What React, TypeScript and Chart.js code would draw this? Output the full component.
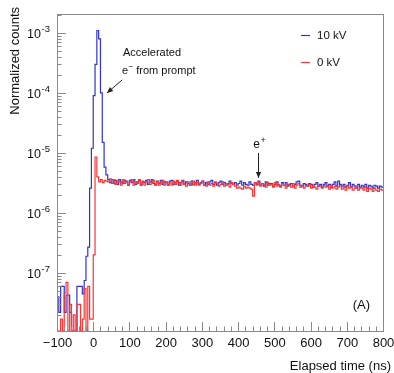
import { useEffect, useRef } from "react";
import { Chart, registerables } from "chart.js";

Chart.register(...registerables);

// ---- data (5 ns bins, left edges from -100 ns) ----
const BIN_START = -100;
const BIN_WIDTH = 5;
const X_MIN = -100;
const X_MAX = 800;
const Y_MIN = 1.08e-8;
const Y_MAX = 2.07e-3;

const seriesLabels = ["10 kV", "0 kV"];
const seriesColors = ["#3434c4", "#f43838"];

const xTickValues = [-100, 0, 100, 200, 300, 400, 500, 600, 700, 800];
const yTickExponents = [-3, -4, -5, -6, -7];

const counts10kV = [
  4.0e-8, 2.2e-8, 6.0e-8, 6.0e-8, 2.2e-8, 4.3e-8, 4.3e-8, 2.2e-8, 0, 0,
  0, 6.0e-8, 6.0e-8, 6.0e-8, 4.5e-8, 7.5e-8, 1.9e-7, 2.7e-7, 2.6e-6, 1.2e-5,
  9.0e-5, 3.0e-4, 1.1e-3, 8.0e-4, 1.0e-4, 1.5e-5, 5.8e-6, 4.3e-6,
  3.6e-6, 3.2e-6, 3.6e-6, 3.1e-6, 3.5e-6, 3.0e-6, 3.6e-6, 3.3e-6, 3.1e-6, 3.5e-6,
  3.3e-6, 2.9e-6, 3.5e-6, 3.2e-6, 3.6e-6, 3.0e-6, 3.3e-6, 3.5e-6, 2.9e-6, 3.3e-6,
  3.2e-6, 3.5e-6, 3.0e-6, 3.3e-6, 3.6e-6, 3.1e-6, 2.9e-6, 3.4e-6, 3.1e-6, 3.5e-6,
  3.0e-6, 3.3e-6, 3.2e-6, 2.9e-6, 3.4e-6, 3.5e-6, 3.0e-6, 3.2e-6, 3.4e-6, 2.9e-6,
  3.2e-6, 3.5e-6, 3.0e-6, 3.3e-6, 3.1e-6, 2.9e-6, 3.4e-6, 3.0e-6, 3.2e-6, 3.5e-6,
  3.0e-6, 3.2e-6, 3.4e-6, 2.9e-6, 3.2e-6, 3.0e-6, 3.3e-6, 3.5e-6, 3.0e-6, 3.2e-6,
  2.9e-6, 3.2e-6, 3.4e-6, 3.0e-6, 3.2e-6, 2.9e-6, 3.1e-6, 3.4e-6, 3.1e-6, 3.0e-6,
  3.2e-6, 2.9e-6, 3.1e-6, 3.4e-6, 2.9e-6, 3.2e-6, 3.0e-6, 2.9e-6, 3.3e-6, 3.0e-6,
  2.9e-6, 3.2e-6, 3.0e-6, 3.4e-6, 2.9e-6, 3.1e-6, 2.8e-6, 3.3e-6, 2.9e-6, 3.1e-6,
  3.1e-6, 2.8e-6, 3.0e-6, 3.3e-6, 2.9e-6, 2.8e-6, 3.2e-6, 2.9e-6, 3.2e-6, 2.8e-6,
  3.0e-6, 3.1e-6, 2.8e-6, 3.0e-6, 3.3e-6, 3.4e-6, 2.9e-6, 2.8e-6, 3.1e-6, 3.0e-6,
  2.8e-6, 3.1e-6, 3.0e-6, 2.7e-6, 3.0e-6, 3.2e-6, 2.8e-6, 3.0e-6, 2.7e-6, 3.0e-6,
  3.2e-6, 2.8e-6, 3.0e-6, 2.7e-6, 3.0e-6, 3.3e-6, 2.8e-6, 3.4e-6, 3.0e-6, 2.8e-6,
  3.0e-6, 2.7e-6, 2.9e-6, 3.2e-6, 2.7e-6, 3.0e-6, 2.8e-6, 2.6e-6, 3.0e-6, 2.7e-6,
  2.9e-6, 2.7e-6, 3.0e-6, 2.6e-6, 2.9e-6, 2.8e-6, 2.6e-6, 2.9e-6, 2.8e-6, 2.6e-6,
  2.8e-6, 2.7e-6,
];

const counts0kV = [
  0, 0, 1.7e-8, 0, 4.6e-8, 7.0e-8, 0, 3.0e-8, 0, 2.0e-8,
  0, 3.0e-8, 3.0e-8, 0, 1.7e-8, 5.5e-8, 0, 6.0e-8, 1.7e-8, 1.7e-8,
  2.0e-7, 8.5e-6, 4.0e-6, 3.3e-6, 3.6e-6, 3.2e-6, 3.5e-6, 3.4e-6,
  3.3e-6, 3.7e-6, 3.1e-6, 3.6e-6, 3.0e-6, 3.4e-6, 3.3e-6, 2.9e-6, 3.6e-6, 3.1e-6,
  3.4e-6, 3.0e-6, 3.3e-6, 3.6e-6, 2.9e-6, 3.3e-6, 3.1e-6, 3.6e-6, 3.0e-6, 3.4e-6,
  2.9e-6, 3.3e-6, 3.6e-6, 3.0e-6, 3.2e-6, 3.5e-6, 3.0e-6, 3.3e-6, 2.9e-6, 3.2e-6,
  3.5e-6, 2.9e-6, 3.3e-6, 3.0e-6, 3.2e-6, 2.9e-6, 3.4e-6, 3.0e-6, 3.5e-6, 3.2e-6,
  2.9e-6, 3.4e-6, 3.0e-6, 2.8e-6, 3.3e-6, 3.1e-6, 2.9e-6, 3.4e-6, 2.9e-6, 3.2e-6,
  2.9e-6, 3.1e-6, 3.4e-6, 2.9e-6, 2.8e-6, 3.3e-6, 2.9e-6, 3.1e-6, 2.8e-6, 3.3e-6,
  3.1e-6, 2.8e-6, 3.0e-6, 3.3e-6, 2.8e-6, 3.1e-6, 3.0e-6, 2.7e-6, 3.2e-6, 3.0e-6,
  2.8e-6, 2.6e-6, 2.7e-6, 2.6e-6, 2.5e-6, 2.8e-6, 2.6e-6, 2.7e-6, 2.6e-6, 2.5e-6,
  1.9e-6, 3.2e-6, 2.9e-6, 3.3e-6, 2.8e-6, 3.1e-6, 3.0e-6, 2.7e-6, 3.2e-6, 2.9e-6,
  3.0e-6, 2.7e-6, 3.2e-6, 2.8e-6, 3.0e-6, 2.7e-6, 3.1e-6, 2.9e-6, 2.6e-6, 3.0e-6,
  2.9e-6, 2.7e-6, 3.1e-6, 2.6e-6, 2.9e-6, 3.1e-6, 2.7e-6, 2.9e-6, 2.6e-6, 2.9e-6,
  2.8e-6, 3.0e-6, 2.6e-6, 2.9e-6, 2.7e-6, 2.5e-6, 2.9e-6, 2.8e-6, 2.6e-6, 2.9e-6,
  2.7e-6, 2.8e-6, 2.5e-6, 2.9e-6, 2.6e-6, 2.8e-6, 2.5e-6, 2.7e-6, 2.9e-6, 2.5e-6,
  2.7e-6, 2.4e-6, 2.8e-6, 2.6e-6, 2.7e-6, 2.4e-6, 2.6e-6, 2.8e-6, 2.4e-6, 2.6e-6,
  2.6e-6, 2.4e-6, 2.7e-6, 2.3e-6, 2.6e-6, 2.5e-6, 2.3e-6, 2.6e-6, 2.4e-6, 2.3e-6,
  2.5e-6, 2.4e-6,
];

// annotation anchors in data coordinates
const promptText = { x: 82, y1: 4.6e-4, y2: 2.33e-4 };
const promptArrow = { fromX: 80, fromY: 1.65e-4, toX: 38, toY: 1.0e-4 };
const positronText = { x: 442, y: 1.36e-5 };
const positronArrow = { x: 453.6, fromY: 1.0e-5, toY: 3.84e-6 };

const FONT = '"Liberation Sans", Arial, Helvetica, sans-serif';
const AXIS_GRAY = "#8a8a8a";
const TEXT = "#111";

function toPoints(counts: number[]) {
  const pts = counts.map((v, i) => ({
    x: BIN_START + i * BIN_WIDTH,
    y: v > 0 ? v : Y_MIN,
  }));
  pts.push({ x: X_MAX, y: pts[pts.length - 1].y });
  return pts;
}

function arrow(ctx: CanvasRenderingContext2D, x1: number, y1: number, x2: number, y2: number) {
  ctx.beginPath();
  ctx.moveTo(x1, y1);
  ctx.lineTo(x2, y2);
  ctx.stroke();
  const ang = Math.atan2(y2 - y1, x2 - x1);
  const L = 6, W = 2.6;
  ctx.beginPath();
  ctx.moveTo(x2, y2);
  ctx.lineTo(x2 - L * Math.cos(ang) + W * Math.sin(ang), y2 - L * Math.sin(ang) - W * Math.cos(ang));
  ctx.lineTo(x2 - L * Math.cos(ang) - W * Math.sin(ang), y2 - L * Math.sin(ang) + W * Math.cos(ang));
  ctx.closePath();
  ctx.fill();
}

const rootStyle = {
  id: "rootStyle",
  afterDraw(chart: any) {
    const { ctx, chartArea: a, scales } = chart;
    const xs = scales.x;
    const ys = scales.y;
    ctx.save();

    // frame
    ctx.strokeStyle = AXIS_GRAY;
    ctx.lineWidth = 1;
    ctx.strokeRect(a.left + 0.5, a.top + 0.5, a.right - a.left, a.bottom - a.top);

    // x ticks (inside)
    ctx.beginPath();
    for (let v = X_MIN; v <= X_MAX; v += 20) {
      const px = Math.round(xs.getPixelForValue(v)) + 0.5;
      const len = xTickValues.includes(v) ? 9 : 4.5;
      ctx.moveTo(px, a.bottom);
      ctx.lineTo(px, a.bottom - len);
    }
    // y ticks (log)
    for (let d = -8; d <= -3; d++) {
      for (let m = 1; m <= 9; m++) {
        const v = m * Math.pow(10, d);
        if (v < Y_MIN || v > Y_MAX) continue;
        const py = Math.round(ys.getPixelForValue(v)) + 0.5;
        const len = m === 1 ? 9 : 4.5;
        ctx.moveTo(a.left, py);
        ctx.lineTo(a.left + len, py);
      }
    }
    ctx.stroke();

    ctx.fillStyle = TEXT;
    // x labels
    ctx.font = `13px ${FONT}`;
    ctx.textAlign = "center";
    ctx.textBaseline = "middle";
    for (const v of xTickValues) {
      const label = v < 0 ? "\u2212" + Math.abs(v) : String(v);
      ctx.fillText(label, xs.getPixelForValue(v) + 0.5, a.bottom + 12.5);
    }

    // y labels 10^e
    for (const e of yTickExponents) {
      const py = ys.getPixelForValue(Math.pow(10, e));
      ctx.font = `12.5px ${FONT}`;
      ctx.textAlign = "right";
      ctx.textBaseline = "middle";
      ctx.fillText("10", a.left - 16, py + 1.5);
      ctx.font = `9.5px ${FONT}`;
      ctx.textAlign = "left";
      ctx.fillText("-" + Math.abs(e), a.left - 15.5, py - 3.5);
    }

    // axis titles
    ctx.font = `13px ${FONT}`;
    ctx.textAlign = "right";
    ctx.textBaseline = "middle";
    ctx.fillText("Elapsed time (ns)", a.right + 8, a.bottom + 35);
    ctx.save();
    ctx.translate(15, a.top - 7);
    ctx.rotate(-Math.PI / 2);
    ctx.fillText("Normalized counts", 0, 0);
    ctx.restore();

    // legend
    ctx.font = `11.5px ${FONT}`;
    ctx.textAlign = "left";
    ctx.textBaseline = "middle";
    seriesLabels.forEach((lab, i) => {
      const y = a.top + 21.5 + i * 27;
      ctx.strokeStyle = seriesColors[i];
      ctx.lineWidth = 1.2;
      ctx.beginPath();
      ctx.moveTo(a.right - 82, y);
      ctx.lineTo(a.right - 73, y);
      ctx.stroke();
      ctx.fillStyle = TEXT;
      ctx.fillText(lab, a.right - 66, y);
    });

    // (A)
    ctx.font = `13px ${FONT}`;
    ctx.textAlign = "right";
    ctx.fillText("(A)", a.right - 13, a.bottom - 26);

    // prompt annotation
    ctx.font = `11px ${FONT}`;
    ctx.textAlign = "left";
    const tx = xs.getPixelForValue(promptText.x);
    ctx.fillText("Accelerated", tx, ys.getPixelForValue(promptText.y1));
    const ty2 = ys.getPixelForValue(promptText.y2);
    ctx.fillText("e", tx - 1, ty2);
    const ew = ctx.measureText("e").width;
    ctx.font = `8px ${FONT}`;
    ctx.fillText("\u2212", tx - 1 + ew + 0.5, ty2 - 4);
    const mw = ctx.measureText("\u2212").width;
    ctx.font = `11px ${FONT}`;
    ctx.fillText(" from prompt", tx - 1 + ew + mw + 0.5, ty2);

    ctx.strokeStyle = "#222";
    ctx.fillStyle = "#222";
    ctx.lineWidth = 1;
    arrow(
      ctx,
      xs.getPixelForValue(promptArrow.fromX),
      ys.getPixelForValue(promptArrow.fromY),
      xs.getPixelForValue(promptArrow.toX),
      ys.getPixelForValue(promptArrow.toY)
    );

    // positron annotation
    ctx.fillStyle = TEXT;
    ctx.font = `12px ${FONT}`;
    const px = xs.getPixelForValue(positronText.x);
    const py = ys.getPixelForValue(positronText.y);
    ctx.fillText("e", px, py);
    const ew2 = ctx.measureText("e").width;
    ctx.font = `9px ${FONT}`;
    ctx.fillText("+", px + ew2 + 0.5, py - 4);
    ctx.fillStyle = "#222";
    const ax = Math.round(xs.getPixelForValue(positronArrow.x)) + 0.5;
    arrow(ctx, ax, ys.getPixelForValue(positronArrow.fromY), ax, ys.getPixelForValue(positronArrow.toY));

    ctx.restore();
  },
};

export default function App() {
  const ref = useRef<HTMLCanvasElement | null>(null);

  useEffect(() => {
    if (!ref.current) return;
    const chart = new Chart(ref.current, {
      type: "line",
      data: {
        datasets: [
          {
            label: seriesLabels[1],
            data: toPoints(counts0kV),
            borderColor: seriesColors[1],
            borderWidth: 1.2,
            pointRadius: 0,
            stepped: "before",
            fill: false,
            order: 0,
          },
          {
            label: seriesLabels[0],
            data: toPoints(counts10kV),
            borderColor: seriesColors[0],
            borderWidth: 1.2,
            pointRadius: 0,
            stepped: "before",
            fill: false,
            order: 1,
          },
        ],
      },
      options: {
        responsive: false,
        animation: false,
        layout: { padding: { left: 57, top: 14, right: 11, bottom: 42 } },
        scales: {
          x: { type: "linear", min: X_MIN, max: X_MAX, display: false },
          y: { type: "logarithmic", min: Y_MIN, max: Y_MAX, display: false },
        },
        plugins: {
          legend: { display: false },
          tooltip: { enabled: false },
        },
        elements: { line: { tension: 0 } },
      },
      plugins: [rootStyle],
    } as any);
    return () => chart.destroy();
  }, []);

  return (
    <div style={{ position: "fixed", left: 0, top: 0, width: 394, height: 373, background: "#fff" }}>
      <canvas ref={ref} width={394} height={373} style={{ display: "block" }} />
    </div>
  );
}
